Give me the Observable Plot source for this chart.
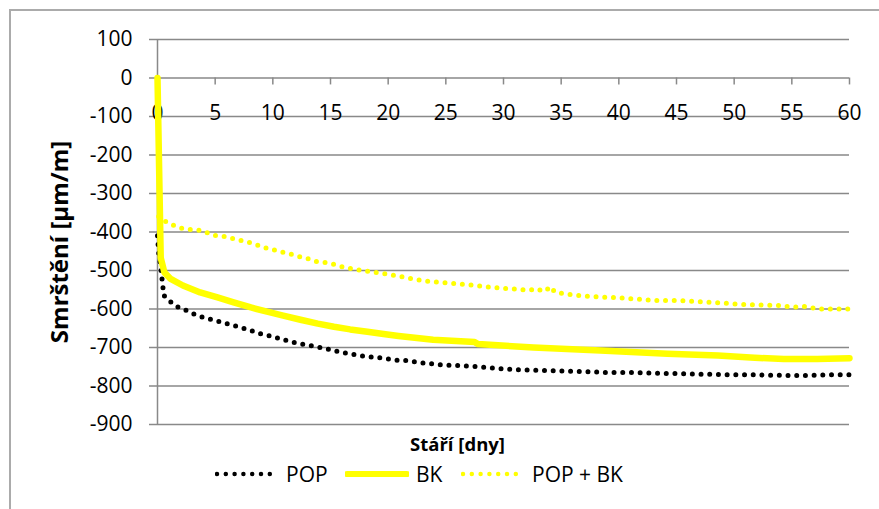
<!DOCTYPE html>
<html>
<head>
<meta charset="utf-8">
<script src="https://cdn.jsdelivr.net/npm/d3@7"></script>
<script src="https://cdn.jsdelivr.net/npm/@observablehq/plot@0.6"></script>
<style>
  html, body { margin: 0; padding: 0; background: #fff; }
  #wrap { position: relative; width: 879px; height: 509px; overflow: hidden; font-family: "Open Sans", sans-serif; }
  #frame { position: absolute; left: 9px; top: 9px; width: 1000px; height: 1000px; border-left: 2px solid #ababab; border-top: 2px solid #ababab; }
  #chart { position: absolute; left: 0; top: 0; }
  #legend { position: absolute; left: 0; top: 0; width: 879px; height: 509px; font-size: 21px; color: #000; }
  .item { position: absolute; top: 460px; height: 28px; display: flex; align-items: center; }
  .item svg { margin-right: 7px; }
</style>
</head>
<body>
<div id="wrap">
  <div id="frame"></div>
  <div id="chart"></div>
  <div id="legend"></div>
</div>
<script>
// ---- data ----
const seriesNames = ["POP", "BK", "POP + BK"];
const xTicks = [0, 5, 10, 15, 20, 25, 30, 35, 40, 45, 50, 55, 60];
const yTicks = [100, 0, -100, -200, -300, -400, -500, -600, -700, -800, -900];
const xTitle = "Stáří [dny]";
const yTitle = "Smrštění [µm/m]";

const popDays = [0, 0.1, 0.26, 0.35, 0.55, 1.07, 1.7, 2.43, 3.15, 3.96, 4.65, 5.38, 6.1, 6.85, 7.57, 8.2, 8.93, 9.65, 10.4, 11.2, 12.0, 12.8, 13.8, 14.6, 15.3, 16.1, 16.8, 17.6, 18.3, 19.0, 19.6, 20.7, 21.5, 23.0, 24.6, 26.2, 27.7, 29.2, 30.9, 32.5, 34.2, 36.1, 37.7, 39.1, 40.7, 42.3, 43.8, 45.2, 46.6, 48.4, 50.0, 51.7, 53.4, 55.3, 56.9, 58.4, 60];
const popVals = [-410, -454, -484, -511, -565, -580, -594, -603, -613, -622, -627, -633, -639, -645, -651, -657, -664, -669, -675, -682, -688, -693, -698, -703, -708, -713, -717, -721, -724, -726, -728, -733, -734, -740, -745, -747, -750, -754, -757, -759, -760, -762, -763, -765, -765, -766, -767, -768, -769, -770, -771, -771, -772, -773, -772, -771, -771];

const bkDays = [0, 0.28, 0.6, 1.1, 2.2, 3.7, 5.2, 6.6, 8.1, 9.5, 10.9, 12.4, 13.9, 15.3, 16.7, 18.2, 19.6, 20.9, 23.9, 27.5, 27.8, 32.6, 38.4, 44.2, 48.6, 51.4, 54.3, 57.2, 60];
const bkVals = [0, -467, -505, -521, -539, -557, -570, -583, -596, -607, -617, -628, -638, -646, -653, -659, -665, -670, -680, -686, -691, -700, -708, -716, -721, -726, -730, -730, -728];

const popbkDays = [0.1, 0.26, 1.5, 2.2, 3.0, 3.7, 4.3, 5.0, 5.7, 6.3, 6.9, 7.7, 8.5, 9.2, 10.0, 10.8, 11.5, 12.2, 13.0, 13.7, 14.7, 15.4, 16.1, 16.9, 17.6, 18.3, 19.1, 19.8, 20.8, 21.5, 22.2, 23.0, 23.8, 24.6, 25.4, 26.1, 26.9, 27.7, 28.4, 29.2, 30.0, 30.8, 31.6, 32.3, 32.9, 33.2, 33.7, 34.0, 34.5, 35.4, 36.1, 36.9, 37.6, 38.5, 39.3, 40.1, 40.9, 41.6, 42.4, 43.3, 44.1, 44.9, 45.7, 46.5, 47.3, 48.0, 48.6, 49.2, 49.9, 50.8, 51.6, 52.5, 53.1, 53.9, 54.7, 55.5, 56.0, 56.8, 57.6, 58.4, 59.1, 60];
const popbkVals = [-360, -366, -384, -391, -394, -396, -402, -409, -411, -415, -420, -425, -432, -440, -446, -452, -457, -463, -469, -476, -480, -485, -491, -496, -499, -502, -506, -509, -514, -518, -522, -526, -529, -531, -533, -535, -537, -539, -542, -544, -546, -548, -550, -551, -547, -551, -553, -542, -557, -561, -564, -566, -568, -569, -570, -571, -573, -574, -576, -578, -578, -578, -579, -580, -582, -583, -584, -585, -587, -588, -589, -590, -590, -591, -594, -595, -593, -597, -600, -600, -600, -600];

// ---- build ----
const toRows = (xs, ys) => xs.map((x, i) => ({day: x, v: ys[i]}));
const popData = toRows(popDays, popVals);
const bkData = toRows(bkDays, bkVals);
const popbkData = toRows(popbkDays, popbkVals);

const GRID = "#898989";
const YEL = "#ffff00";
const FS = 21;

const chart = Plot.plot({
  width: 879,
  height: 452,
  marginTop: 39,
  marginBottom: 28,
  marginLeft: 157,
  marginRight: 30,
  style: {fontFamily: "'Open Sans', sans-serif", fontSize: FS + "px", color: "#000", background: "transparent", overflow: "visible"},
  x: {domain: [0, 60], axis: null},
  y: {domain: [-900, 100]},
  marks: [
    Plot.gridY(yTicks, {stroke: GRID, strokeOpacity: 1, strokeWidth: 1.5}),
    Plot.axisY(yTicks, {tickSize: 8, tickPadding: 17, stroke: GRID, strokeWidth: 1.5, fill: "#000", label: null, tickFormat: d => String(d), fontSize: FS}),
    Plot.ruleX([0], {stroke: GRID, strokeWidth: 1.5}),
    Plot.ruleX(xTicks, {x: d => d, y1: 0, y2: -18, stroke: GRID, strokeWidth: 1.5}),
    Plot.text(xTicks, {x: d => d, y: 0, dy: 35, text: d => String(d), fill: "#000", fontSize: FS}),
    Plot.line(popData, {x: "day", y: "v", stroke: "#000", strokeWidth: 5, strokeDasharray: "0 8.7", strokeLinecap: "round", strokeLinejoin: "round"}),
    Plot.line(bkData, {x: "day", y: "v", stroke: YEL, strokeWidth: 6.5, strokeLinejoin: "round"}),
    Plot.line(popbkData, {x: "day", y: "v", stroke: YEL, strokeWidth: 5, strokeDasharray: "0 8.7", strokeLinecap: "round", strokeLinejoin: "round"}),
    Plot.text([yTitle], {frameAnchor: "left", textAnchor: "middle", lineAnchor: "middle", dx: -97, dy: 10, rotate: -90, text: d => d, fontWeight: "bold", fontSize: 24, fill: "#000"}),
    Plot.text([xTitle], {frameAnchor: "bottom", textAnchor: "middle", lineAnchor: "middle", dx: -46, dy: 21, text: d => d, fontWeight: "bold", fontSize: 18.5, fill: "#000"})
  ]
});
document.getElementById("chart").appendChild(chart);

// ---- legend ----
const legendSpecs = [
  {name: seriesNames[0], color: "#000", dash: "0 8.8", width: 4.5, left: 215},
  {name: seriesNames[1], color: YEL, dash: null, width: 6, left: 345},
  {name: seriesNames[2], color: YEL, dash: "0 8.8", width: 4.5, left: 461}
];
const legend = document.getElementById("legend");
for (const s of legendSpecs) {
  const item = document.createElement("div");
  item.className = "item";
  item.style.left = s.left + "px";
  const svg = d3.create("svg").attr("width", 64).attr("height", 12);
  svg.append("line").attr("x1", 2).attr("x2", 62).attr("y1", 6).attr("y2", 6)
    .attr("stroke", s.color).attr("stroke-width", s.width)
    .attr("stroke-linecap", "round").attr("stroke-dasharray", s.dash);
  item.appendChild(svg.node());
  const span = document.createElement("span");
  span.textContent = s.name;
  item.appendChild(span);
  legend.appendChild(item);
}
</script>
</body>
</html>
